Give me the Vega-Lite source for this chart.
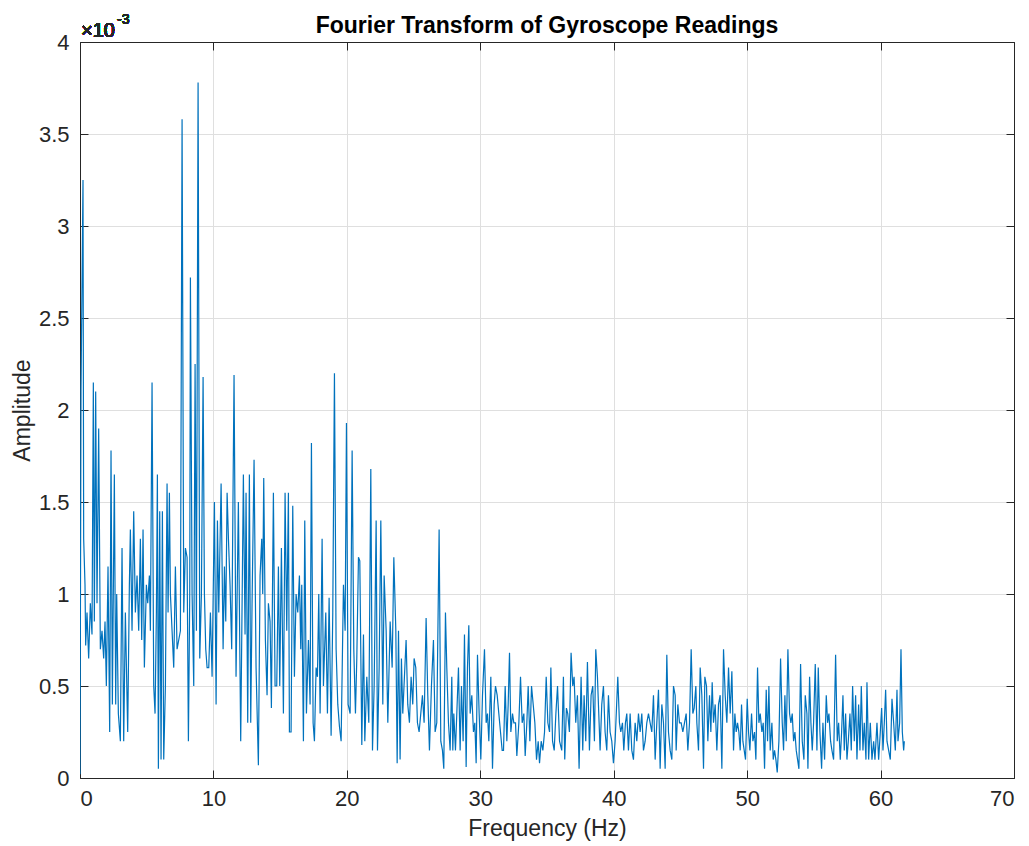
{
  "$schema": "https://vega.github.io/schema/vega-lite/v6.json",
  "width": 934,
  "height": 736,
  "autosize": {"type": "none"},
  "padding": {"left": 80, "top": 42, "right": 15, "bottom": 68},
  "background": "white",
  "title": {
    "text": "Fourier Transform of Gyroscope Readings",
    "font": "Liberation Sans",
    "fontSize": 23,
    "fontWeight": "bold",
    "color": "#000000",
    "anchor": "middle",
    "offset": -25
  },
  "config": {
    "view": {"stroke": "#262626", "strokeWidth": 1},
    "axis": {
      "domainColor": "#262626",
      "domainWidth": 1,
      "tickColor": "#262626",
      "tickWidth": 1,
      "tickSize": -8,
      "labelColor": "#262626",
      "labelFont": "Liberation Sans",
      "labelFontSize": 22,
      "titleFont": "Liberation Sans",
      "titleFontSize": 23,
      "titleFontWeight": "normal",
      "titleColor": "#262626",
      "gridColor": "#dfdfdf",
      "gridWidth": 1
    }
  },
  "data": {
    "values": [
      {"freq": 0, "amp": 0.00002},
      {"freq": 0.075, "amp": 0.0021},
      {"freq": 0.225, "amp": 0.00325},
      {"freq": 0.275, "amp": 0.0013},
      {"freq": 0.375, "amp": 0.00105},
      {"freq": 0.425, "amp": 0.00072},
      {"freq": 0.525, "amp": 0.0009},
      {"freq": 0.65, "amp": 0.00065},
      {"freq": 0.775, "amp": 0.00095},
      {"freq": 0.9, "amp": 0.00078},
      {"freq": 1.0, "amp": 0.00215},
      {"freq": 1.075, "amp": 0.00085},
      {"freq": 1.175, "amp": 0.0021},
      {"freq": 1.275, "amp": 0.00095},
      {"freq": 1.4, "amp": 0.0019},
      {"freq": 1.525, "amp": 0.0007},
      {"freq": 1.65, "amp": 0.0008},
      {"freq": 1.775, "amp": 0.00065},
      {"freq": 1.875, "amp": 0.00085},
      {"freq": 1.975, "amp": 0.0005},
      {"freq": 2.1, "amp": 0.00115},
      {"freq": 2.225, "amp": 0.00025},
      {"freq": 2.325, "amp": 0.00178},
      {"freq": 2.425, "amp": 0.0004},
      {"freq": 2.575, "amp": 0.00165},
      {"freq": 2.675, "amp": 0.0004},
      {"freq": 2.75, "amp": 0.001},
      {"freq": 2.875, "amp": 0.00035},
      {"freq": 3.025, "amp": 0.0002},
      {"freq": 3.15, "amp": 0.00125},
      {"freq": 3.275, "amp": 0.0002},
      {"freq": 3.4, "amp": 0.0009},
      {"freq": 3.575, "amp": 0.00025},
      {"freq": 3.7, "amp": 0.00105},
      {"freq": 3.775, "amp": 0.00135},
      {"freq": 3.9, "amp": 0.0008},
      {"freq": 4.025, "amp": 0.00145},
      {"freq": 4.15, "amp": 0.0009},
      {"freq": 4.275, "amp": 0.0011},
      {"freq": 4.4, "amp": 0.0008},
      {"freq": 4.525, "amp": 0.0013},
      {"freq": 4.625, "amp": 0.00075},
      {"freq": 4.725, "amp": 0.00135},
      {"freq": 4.825, "amp": 0.0006},
      {"freq": 4.975, "amp": 0.00105},
      {"freq": 5.075, "amp": 0.00095},
      {"freq": 5.2, "amp": 0.0011},
      {"freq": 5.275, "amp": 0.0008},
      {"freq": 5.4, "amp": 0.00215},
      {"freq": 5.525, "amp": 0.0005},
      {"freq": 5.625, "amp": 0.00035},
      {"freq": 5.725, "amp": 0.0009},
      {"freq": 5.8, "amp": 0.00165},
      {"freq": 5.875, "amp": 0.00005},
      {"freq": 5.975, "amp": 0.00145},
      {"freq": 6.075, "amp": 0.0001},
      {"freq": 6.175, "amp": 0.00145},
      {"freq": 6.275, "amp": 0.0001},
      {"freq": 6.4, "amp": 0.0005},
      {"freq": 6.525, "amp": 0.0016},
      {"freq": 6.6, "amp": 0.0009},
      {"freq": 6.7, "amp": 0.00155},
      {"freq": 6.775, "amp": 0.001},
      {"freq": 6.9, "amp": 0.0008},
      {"freq": 7.025, "amp": 0.0006},
      {"freq": 7.15, "amp": 0.00115},
      {"freq": 7.275, "amp": 0.0007},
      {"freq": 7.4, "amp": 0.00075},
      {"freq": 7.525, "amp": 0.0008},
      {"freq": 7.65, "amp": 0.00358},
      {"freq": 7.775, "amp": 0.0009},
      {"freq": 7.9, "amp": 0.00125},
      {"freq": 8.025, "amp": 0.0012},
      {"freq": 8.125, "amp": 0.0002},
      {"freq": 8.225, "amp": 0.001},
      {"freq": 8.275, "amp": 0.00272},
      {"freq": 8.4, "amp": 0.001},
      {"freq": 8.525, "amp": 0.0005},
      {"freq": 8.625, "amp": 0.00225},
      {"freq": 8.725, "amp": 0.0008},
      {"freq": 8.85, "amp": 0.00378},
      {"freq": 8.975, "amp": 0.00065},
      {"freq": 9.1, "amp": 0.001},
      {"freq": 9.225, "amp": 0.00218},
      {"freq": 9.325, "amp": 0.001},
      {"freq": 9.425, "amp": 0.0007},
      {"freq": 9.525, "amp": 0.0006},
      {"freq": 9.65, "amp": 0.0006},
      {"freq": 9.775, "amp": 0.0009},
      {"freq": 9.9, "amp": 0.00055},
      {"freq": 10.075, "amp": 0.0015},
      {"freq": 10.2, "amp": 0.0004},
      {"freq": 10.3, "amp": 0.0014},
      {"freq": 10.4, "amp": 0.0009},
      {"freq": 10.575, "amp": 0.0016},
      {"freq": 10.725, "amp": 0.0007},
      {"freq": 10.825, "amp": 0.00115},
      {"freq": 10.925, "amp": 0.00085},
      {"freq": 11.025, "amp": 0.00155},
      {"freq": 11.125, "amp": 0.0013},
      {"freq": 11.245, "amp": 0.00105},
      {"freq": 11.37, "amp": 0.0007},
      {"freq": 11.545, "amp": 0.00219},
      {"freq": 11.695, "amp": 0.00055},
      {"freq": 11.87, "amp": 0.0015},
      {"freq": 12.045, "amp": 0.0002},
      {"freq": 12.245, "amp": 0.00165},
      {"freq": 12.37, "amp": 0.00078},
      {"freq": 12.445, "amp": 0.00155},
      {"freq": 12.57, "amp": 0.0003},
      {"freq": 12.695, "amp": 0.00165},
      {"freq": 12.795, "amp": 0.0003},
      {"freq": 12.895, "amp": 0.00095},
      {"freq": 13.045, "amp": 0.00173},
      {"freq": 13.195, "amp": 0.0006},
      {"freq": 13.37, "amp": 0.00007},
      {"freq": 13.495, "amp": 0.0011},
      {"freq": 13.62, "amp": 0.0013},
      {"freq": 13.695, "amp": 0.001},
      {"freq": 13.77, "amp": 0.00163},
      {"freq": 13.895, "amp": 0.00075},
      {"freq": 14.02, "amp": 0.00045},
      {"freq": 14.12, "amp": 0.00095},
      {"freq": 14.245, "amp": 0.00085},
      {"freq": 14.345, "amp": 0.00038},
      {"freq": 14.495, "amp": 0.00155},
      {"freq": 14.62, "amp": 0.0005},
      {"freq": 14.745, "amp": 0.0005},
      {"freq": 14.87, "amp": 0.00115},
      {"freq": 14.97, "amp": 0.0005},
      {"freq": 15.095, "amp": 0.00125},
      {"freq": 15.245, "amp": 0.00035},
      {"freq": 15.37, "amp": 0.00155},
      {"freq": 15.495, "amp": 0.0008},
      {"freq": 15.62, "amp": 0.00155},
      {"freq": 15.695, "amp": 0.00025},
      {"freq": 15.82, "amp": 0.00025},
      {"freq": 15.945, "amp": 0.00148},
      {"freq": 16.07, "amp": 0.00055},
      {"freq": 16.195, "amp": 0.001},
      {"freq": 16.32, "amp": 0.0009},
      {"freq": 16.445, "amp": 0.0011},
      {"freq": 16.545, "amp": 0.0007},
      {"freq": 16.62, "amp": 0.00105},
      {"freq": 16.745, "amp": 0.0002},
      {"freq": 16.845, "amp": 0.0014},
      {"freq": 16.97, "amp": 0.00035},
      {"freq": 17.12, "amp": 0.00075},
      {"freq": 17.245, "amp": 0.0004},
      {"freq": 17.345, "amp": 0.00182},
      {"freq": 17.47, "amp": 0.0003},
      {"freq": 17.57, "amp": 0.0002},
      {"freq": 17.695, "amp": 0.0006},
      {"freq": 17.795, "amp": 0.00055},
      {"freq": 17.895, "amp": 0.001},
      {"freq": 17.995, "amp": 0.00035},
      {"freq": 18.145, "amp": 0.0013},
      {"freq": 18.245, "amp": 0.0005},
      {"freq": 18.42, "amp": 0.0009},
      {"freq": 18.545, "amp": 0.00035},
      {"freq": 18.67, "amp": 0.00098},
      {"freq": 18.82, "amp": 0.00023},
      {"freq": 18.945, "amp": 0.0009},
      {"freq": 19.07, "amp": 0.0022},
      {"freq": 19.195, "amp": 0.0007},
      {"freq": 19.32, "amp": 0.0004},
      {"freq": 19.445, "amp": 0.00028},
      {"freq": 19.57, "amp": 0.0002},
      {"freq": 19.745, "amp": 0.00105},
      {"freq": 19.87, "amp": 0.0008},
      {"freq": 19.97, "amp": 0.00193},
      {"freq": 20.095, "amp": 0.0004},
      {"freq": 20.245, "amp": 0.00035},
      {"freq": 20.395, "amp": 0.00178},
      {"freq": 20.52, "amp": 0.0007},
      {"freq": 20.645, "amp": 0.00035},
      {"freq": 20.745, "amp": 0.00065},
      {"freq": 20.87, "amp": 0.0012},
      {"freq": 20.97, "amp": 0.00118},
      {"freq": 21.12, "amp": 0.00018},
      {"freq": 21.245, "amp": 0.00078},
      {"freq": 21.345, "amp": 0.0002},
      {"freq": 21.495, "amp": 0.00055},
      {"freq": 21.645, "amp": 0.0003},
      {"freq": 21.795, "amp": 0.00168},
      {"freq": 21.92, "amp": 0.00015},
      {"freq": 22.045, "amp": 0.0005},
      {"freq": 22.195, "amp": 0.0014},
      {"freq": 22.295, "amp": 0.00015},
      {"freq": 22.42, "amp": 0.0006},
      {"freq": 22.545, "amp": 0.0014},
      {"freq": 22.695, "amp": 0.0004},
      {"freq": 22.795, "amp": 0.0011},
      {"freq": 22.945, "amp": 0.0008},
      {"freq": 23.07, "amp": 0.0003},
      {"freq": 23.245, "amp": 0.00085},
      {"freq": 23.395, "amp": 0.0006},
      {"freq": 23.52, "amp": 0.0012},
      {"freq": 23.67, "amp": 0.0008},
      {"freq": 23.77, "amp": 0.00008},
      {"freq": 23.87, "amp": 0.0008},
      {"freq": 23.99, "amp": 0.0001},
      {"freq": 24.09, "amp": 0.00065},
      {"freq": 24.19, "amp": 0.00035},
      {"freq": 24.315, "amp": 0.00055},
      {"freq": 24.44, "amp": 0.00075},
      {"freq": 24.565, "amp": 0.0004},
      {"freq": 24.69, "amp": 0.0003},
      {"freq": 24.815, "amp": 0.00055},
      {"freq": 24.94, "amp": 0.0004},
      {"freq": 25.04, "amp": 0.00065},
      {"freq": 25.165, "amp": 0.0006},
      {"freq": 25.29, "amp": 0.0003},
      {"freq": 25.415, "amp": 0.00025},
      {"freq": 25.54, "amp": 0.00035},
      {"freq": 25.665, "amp": 0.00045},
      {"freq": 25.79, "amp": 0.0003},
      {"freq": 25.94, "amp": 0.00087},
      {"freq": 26.065, "amp": 0.00045},
      {"freq": 26.19, "amp": 0.00015},
      {"freq": 26.34, "amp": 0.0005},
      {"freq": 26.49, "amp": 0.00075},
      {"freq": 26.615, "amp": 0.00025},
      {"freq": 26.74, "amp": 0.0003},
      {"freq": 26.915, "amp": 0.00135},
      {"freq": 27.04, "amp": 0.0002},
      {"freq": 27.165, "amp": 0.00015},
      {"freq": 27.265, "amp": 0.00005},
      {"freq": 27.39, "amp": 0.0009},
      {"freq": 27.49, "amp": 0.0006},
      {"freq": 27.615, "amp": 0.0003},
      {"freq": 27.74, "amp": 0.00015},
      {"freq": 27.865, "amp": 0.00055},
      {"freq": 27.94, "amp": 0.00015},
      {"freq": 28.015, "amp": 0.00035},
      {"freq": 28.14, "amp": 0.00015},
      {"freq": 28.24, "amp": 0.00035},
      {"freq": 28.365, "amp": 0.0006},
      {"freq": 28.49, "amp": 0.00015},
      {"freq": 28.59, "amp": 0.0005},
      {"freq": 28.715, "amp": 0.0002},
      {"freq": 28.815, "amp": 0.00078},
      {"freq": 28.94, "amp": 0.00006},
      {"freq": 29.04, "amp": 0.0006},
      {"freq": 29.14, "amp": 0.00083},
      {"freq": 29.24, "amp": 0.00035},
      {"freq": 29.365, "amp": 0.00045},
      {"freq": 29.49, "amp": 0.00025},
      {"freq": 29.59, "amp": 0.0003},
      {"freq": 29.69, "amp": 0.00008},
      {"freq": 29.79, "amp": 0.00067},
      {"freq": 29.915, "amp": 0.00035},
      {"freq": 30.04, "amp": 0.0001},
      {"freq": 30.165, "amp": 0.00045},
      {"freq": 30.315, "amp": 0.0007},
      {"freq": 30.44, "amp": 0.0003},
      {"freq": 30.54, "amp": 0.00035},
      {"freq": 30.64, "amp": 0.0002},
      {"freq": 30.79, "amp": 0.00055},
      {"freq": 30.915, "amp": 0.00005},
      {"freq": 31.04, "amp": 0.0004},
      {"freq": 31.14, "amp": 0.0005},
      {"freq": 31.265, "amp": 0.00045},
      {"freq": 31.39, "amp": 0.00035},
      {"freq": 31.515, "amp": 0.00025},
      {"freq": 31.64, "amp": 0.00015},
      {"freq": 31.74, "amp": 0.00015},
      {"freq": 31.865, "amp": 0.0005},
      {"freq": 31.99, "amp": 0.0002},
      {"freq": 32.09, "amp": 0.0004},
      {"freq": 32.19, "amp": 0.00068},
      {"freq": 32.29, "amp": 0.00025},
      {"freq": 32.415, "amp": 0.00035},
      {"freq": 32.515, "amp": 0.0003},
      {"freq": 32.64, "amp": 0.0003},
      {"freq": 32.74, "amp": 0.00012},
      {"freq": 32.89, "amp": 0.0003},
      {"freq": 33.015, "amp": 0.00055},
      {"freq": 33.14, "amp": 0.0003},
      {"freq": 33.265, "amp": 0.00035},
      {"freq": 33.365, "amp": 0.00012},
      {"freq": 33.49, "amp": 0.0003},
      {"freq": 33.59, "amp": 0.0005},
      {"freq": 33.715, "amp": 0.0002},
      {"freq": 33.84, "amp": 0.0005},
      {"freq": 33.965, "amp": 0.0004},
      {"freq": 34.09, "amp": 0.0003},
      {"freq": 34.215, "amp": 0.0001},
      {"freq": 34.34, "amp": 0.0002},
      {"freq": 34.44, "amp": 0.00008},
      {"freq": 34.565, "amp": 0.0002},
      {"freq": 34.69, "amp": 0.00015},
      {"freq": 34.815, "amp": 0.00025},
      {"freq": 34.94, "amp": 0.00055},
      {"freq": 35.065, "amp": 0.0003},
      {"freq": 35.19, "amp": 0.00025},
      {"freq": 35.29, "amp": 0.0006},
      {"freq": 35.415, "amp": 0.0002},
      {"freq": 35.54, "amp": 0.00015},
      {"freq": 35.665, "amp": 0.00035},
      {"freq": 35.79, "amp": 0.0005},
      {"freq": 35.94, "amp": 0.0002},
      {"freq": 36.105, "amp": 0.00015},
      {"freq": 36.23, "amp": 0.00055},
      {"freq": 36.33, "amp": 0.0001},
      {"freq": 36.455, "amp": 0.00038},
      {"freq": 36.555, "amp": 0.00035},
      {"freq": 36.68, "amp": 0.00025},
      {"freq": 36.805, "amp": 0.00068},
      {"freq": 36.93, "amp": 0.0005},
      {"freq": 37.03, "amp": 0.00055},
      {"freq": 37.155, "amp": 0.0003},
      {"freq": 37.28, "amp": 0.00045},
      {"freq": 37.405, "amp": 0.00005},
      {"freq": 37.555, "amp": 0.00055},
      {"freq": 37.68, "amp": 0.00015},
      {"freq": 37.78, "amp": 0.00045},
      {"freq": 37.905, "amp": 0.0002},
      {"freq": 38.03, "amp": 0.00063},
      {"freq": 38.18, "amp": 0.00015},
      {"freq": 38.305, "amp": 0.00045},
      {"freq": 38.43, "amp": 0.0005},
      {"freq": 38.555, "amp": 0.0002},
      {"freq": 38.655, "amp": 0.0007},
      {"freq": 38.78, "amp": 0.00055},
      {"freq": 38.905, "amp": 0.0003},
      {"freq": 38.98, "amp": 0.00015},
      {"freq": 39.105, "amp": 0.0004},
      {"freq": 39.23, "amp": 0.0005},
      {"freq": 39.355, "amp": 0.00025},
      {"freq": 39.48, "amp": 0.00015},
      {"freq": 39.605, "amp": 0.00045},
      {"freq": 39.73, "amp": 0.00025},
      {"freq": 39.855, "amp": 0.0002},
      {"freq": 39.98, "amp": 0.00008},
      {"freq": 40.105, "amp": 0.0002},
      {"freq": 40.305, "amp": 0.00055},
      {"freq": 40.43, "amp": 0.0003},
      {"freq": 40.53, "amp": 0.00025},
      {"freq": 40.655, "amp": 0.0003},
      {"freq": 40.755, "amp": 0.00015},
      {"freq": 40.88, "amp": 0.0003},
      {"freq": 40.98, "amp": 0.00035},
      {"freq": 41.105, "amp": 0.00015},
      {"freq": 41.23, "amp": 0.00035},
      {"freq": 41.355, "amp": 0.00015},
      {"freq": 41.48, "amp": 0.0001},
      {"freq": 41.605, "amp": 0.0003},
      {"freq": 41.73, "amp": 0.0002},
      {"freq": 41.855, "amp": 0.00035},
      {"freq": 41.98, "amp": 0.00025},
      {"freq": 42.105, "amp": 0.00035},
      {"freq": 42.23, "amp": 0.00015},
      {"freq": 42.355, "amp": 0.0002},
      {"freq": 42.48, "amp": 0.0003},
      {"freq": 42.605, "amp": 0.00035},
      {"freq": 42.73, "amp": 0.0003},
      {"freq": 42.855, "amp": 0.00025},
      {"freq": 42.98, "amp": 0.00045},
      {"freq": 43.105, "amp": 0.0001},
      {"freq": 43.23, "amp": 0.0003},
      {"freq": 43.355, "amp": 0.00048},
      {"freq": 43.48, "amp": 0.00005},
      {"freq": 43.605, "amp": 0.0004},
      {"freq": 43.73, "amp": 0.0003},
      {"freq": 43.855, "amp": 0.00005},
      {"freq": 43.98, "amp": 0.00067},
      {"freq": 44.105, "amp": 0.00025},
      {"freq": 44.23, "amp": 0.00015},
      {"freq": 44.355, "amp": 0.0001},
      {"freq": 44.48, "amp": 0.0005},
      {"freq": 44.605, "amp": 0.00045},
      {"freq": 44.68, "amp": 0.00015},
      {"freq": 44.805, "amp": 0.0004},
      {"freq": 44.93, "amp": 0.0003},
      {"freq": 45.055, "amp": 0.0003},
      {"freq": 45.18, "amp": 0.00025},
      {"freq": 45.305, "amp": 0.0003},
      {"freq": 45.43, "amp": 0.00035},
      {"freq": 45.555, "amp": 0.00015},
      {"freq": 45.68, "amp": 0.0003},
      {"freq": 45.805, "amp": 0.0007},
      {"freq": 45.93, "amp": 0.00035},
      {"freq": 46.03, "amp": 0.00038},
      {"freq": 46.155, "amp": 0.0005},
      {"freq": 46.23, "amp": 0.0003},
      {"freq": 46.355, "amp": 0.00015},
      {"freq": 46.48, "amp": 0.0006},
      {"freq": 46.605, "amp": 0.00045},
      {"freq": 46.73, "amp": 0.00005},
      {"freq": 46.83, "amp": 0.00055},
      {"freq": 46.955, "amp": 0.0005},
      {"freq": 47.055, "amp": 0.0002},
      {"freq": 47.18, "amp": 0.00045},
      {"freq": 47.28, "amp": 0.00025},
      {"freq": 47.38, "amp": 0.00052},
      {"freq": 47.48, "amp": 0.0003},
      {"freq": 47.605, "amp": 0.0004},
      {"freq": 47.73, "amp": 0.00015},
      {"freq": 47.855, "amp": 0.0004},
      {"freq": 47.98, "amp": 0.00045},
      {"freq": 48.105, "amp": 0.00005},
      {"freq": 48.23, "amp": 0.0007},
      {"freq": 48.355, "amp": 0.00045},
      {"freq": 48.48, "amp": 0.0003},
      {"freq": 48.605, "amp": 0.0006},
      {"freq": 48.73, "amp": 0.00035},
      {"freq": 48.855, "amp": 0.00058},
      {"freq": 48.98, "amp": 0.00015},
      {"freq": 49.08, "amp": 0.00035},
      {"freq": 49.18, "amp": 0.00025},
      {"freq": 49.28, "amp": 0.0003},
      {"freq": 49.38, "amp": 0.00025},
      {"freq": 49.48, "amp": 0.00015},
      {"freq": 49.58, "amp": 0.0004},
      {"freq": 49.68, "amp": 0.0002},
      {"freq": 49.78, "amp": 0.00015},
      {"freq": 49.88, "amp": 0.0001},
      {"freq": 50.005, "amp": 0.00043},
      {"freq": 50.105, "amp": 0.00025},
      {"freq": 50.205, "amp": 0.00015},
      {"freq": 50.33, "amp": 0.00035},
      {"freq": 50.43, "amp": 0.0002},
      {"freq": 50.555, "amp": 0.00025},
      {"freq": 50.655, "amp": 0.0001},
      {"freq": 50.78, "amp": 0.0006},
      {"freq": 50.88, "amp": 0.0003},
      {"freq": 50.98, "amp": 0.00035},
      {"freq": 51.105, "amp": 0.00025},
      {"freq": 51.205, "amp": 0.0003},
      {"freq": 51.305, "amp": 0.00005},
      {"freq": 51.43, "amp": 0.00048},
      {"freq": 51.53, "amp": 0.0002},
      {"freq": 51.63, "amp": 0.0005},
      {"freq": 51.73, "amp": 0.00015},
      {"freq": 51.855, "amp": 0.0003},
      {"freq": 51.955, "amp": 0.0001},
      {"freq": 52.055, "amp": 0.00015},
      {"freq": 52.155, "amp": 0.0001},
      {"freq": 52.255, "amp": 0.00003},
      {"freq": 52.38, "amp": 0.0002},
      {"freq": 52.505, "amp": 0.00065},
      {"freq": 52.63, "amp": 0.0003},
      {"freq": 52.73, "amp": 0.00015},
      {"freq": 52.83, "amp": 0.00045},
      {"freq": 52.93, "amp": 0.0002},
      {"freq": 53.055, "amp": 0.0007},
      {"freq": 53.18, "amp": 0.00035},
      {"freq": 53.28, "amp": 0.0003},
      {"freq": 53.38, "amp": 0.00035},
      {"freq": 53.48, "amp": 0.0002},
      {"freq": 53.58, "amp": 0.00025},
      {"freq": 53.68, "amp": 0.00015},
      {"freq": 53.78, "amp": 0.0001},
      {"freq": 53.88, "amp": 0.00005},
      {"freq": 54.005, "amp": 0.00062},
      {"freq": 54.13, "amp": 0.0002},
      {"freq": 54.255, "amp": 0.0001},
      {"freq": 54.355, "amp": 0.00045},
      {"freq": 54.48, "amp": 0.00035},
      {"freq": 54.555, "amp": 0.00005},
      {"freq": 54.68, "amp": 0.00055},
      {"freq": 54.78, "amp": 0.0003},
      {"freq": 54.88, "amp": 0.00015},
      {"freq": 54.98, "amp": 0.0003},
      {"freq": 55.105, "amp": 0.00062},
      {"freq": 55.23, "amp": 0.00015},
      {"freq": 55.33, "amp": 0.0006},
      {"freq": 55.455, "amp": 0.00025},
      {"freq": 55.58, "amp": 0.00005},
      {"freq": 55.68, "amp": 0.0003},
      {"freq": 55.805, "amp": 0.0001},
      {"freq": 55.93, "amp": 0.00045},
      {"freq": 56.03, "amp": 0.0003},
      {"freq": 56.13, "amp": 0.00035},
      {"freq": 56.255, "amp": 0.0002},
      {"freq": 56.355, "amp": 0.00015},
      {"freq": 56.48, "amp": 0.0001},
      {"freq": 56.63, "amp": 0.00067},
      {"freq": 56.755, "amp": 0.0002},
      {"freq": 56.855, "amp": 0.0003},
      {"freq": 56.98, "amp": 0.0001},
      {"freq": 57.08, "amp": 0.00025},
      {"freq": 57.18, "amp": 0.00045},
      {"freq": 57.28, "amp": 0.00015},
      {"freq": 57.38, "amp": 0.00035},
      {"freq": 57.48, "amp": 0.0001},
      {"freq": 57.58, "amp": 0.0002},
      {"freq": 57.705, "amp": 0.00035},
      {"freq": 57.805, "amp": 0.00015},
      {"freq": 57.905, "amp": 0.0005},
      {"freq": 58.03, "amp": 0.0002},
      {"freq": 58.13, "amp": 0.00045},
      {"freq": 58.23, "amp": 0.0001},
      {"freq": 58.355, "amp": 0.0004},
      {"freq": 58.455, "amp": 0.00015},
      {"freq": 58.555, "amp": 0.0005},
      {"freq": 58.68, "amp": 0.00015},
      {"freq": 58.78, "amp": 0.0003},
      {"freq": 58.905, "amp": 0.0001},
      {"freq": 58.98, "amp": 0.00052},
      {"freq": 59.105, "amp": 0.0001},
      {"freq": 59.23, "amp": 0.0003},
      {"freq": 59.355, "amp": 0.0001},
      {"freq": 59.48, "amp": 0.0002},
      {"freq": 59.58, "amp": 0.0001},
      {"freq": 59.73, "amp": 0.0003},
      {"freq": 59.855, "amp": 0.0001},
      {"freq": 59.98, "amp": 0.00025},
      {"freq": 60.08, "amp": 0.00038},
      {"freq": 60.18, "amp": 0.00015},
      {"freq": 60.28, "amp": 0.0003},
      {"freq": 60.38, "amp": 0.00048},
      {"freq": 60.48, "amp": 0.0002},
      {"freq": 60.605, "amp": 0.00015},
      {"freq": 60.73, "amp": 0.0001},
      {"freq": 60.855, "amp": 0.00043},
      {"freq": 60.98, "amp": 0.0003},
      {"freq": 61.105, "amp": 0.00015},
      {"freq": 61.23, "amp": 0.00048},
      {"freq": 61.305, "amp": 0.0002},
      {"freq": 61.43, "amp": 0.0003},
      {"freq": 61.53, "amp": 0.0007},
      {"freq": 61.63, "amp": 0.00025},
      {"freq": 61.73, "amp": 0.00015},
      {"freq": 61.78, "amp": 0.0002}
    ]
  },
  "layer": [
    {
      "mark": {"type": "line", "color": "#0072BD", "strokeWidth": 1.2, "clip": true},
      "encoding": {
        "x": {
          "field": "freq",
          "type": "quantitative",
          "scale": {"domain": [0, 70], "nice": false, "zero": false},
          "axis": {
            "orient": "bottom",
            "title": "Frequency (Hz)",
            "values": [0, 10, 20, 30, 40, 50, 60, 70],
            "grid": true,
            "labelPadding": 18,
            "titlePadding": 8
          }
        },
        "y": {
          "field": "amp",
          "type": "quantitative",
          "scale": {"domain": [0, 0.004], "nice": false},
          "axis": {
            "orient": "left",
            "title": "Amplitude",
            "values": [0, 0.0005, 0.001, 0.0015, 0.002, 0.0025, 0.003, 0.0035, 0.004],
            "labelExpr": "format(datum.value * 1000, '~g')",
            "grid": true,
            "labelPadding": 19,
            "titlePadding": 4
          }
        }
      }
    },
    {
      "mark": {"type": "line", "opacity": 0},
      "encoding": {
        "x": {
          "field": "freq",
          "type": "quantitative",
          "scale": {"domain": [0, 70], "nice": false, "zero": false},
          "axis": {"orient": "top", "title": null, "labels": false, "grid": false, "values": [0, 10, 20, 30, 40, 50, 60, 70]}
        },
        "y": {
          "field": "amp",
          "type": "quantitative",
          "scale": {"domain": [0, 0.004], "nice": false},
          "axis": {"orient": "right", "title": null, "labels": false, "grid": false, "values": [0, 0.0005, 0.001, 0.0015, 0.002, 0.0025, 0.003, 0.0035, 0.004]}
        }
      }
    },
    {
      "mark": {"type": "text", "align": "left", "baseline": "alphabetic", "font": "Liberation Sans", "fontSize": 20, "fontWeight": "normal", "color": "#262626", "dx": 1, "dy": -5},
      "encoding": {
        "x": {"datum": 0, "type": "quantitative", "scale": {"domain": [0, 70], "nice": false, "zero": false}, "axis": null},
        "y": {"datum": 0.004, "type": "quantitative", "scale": {"domain": [0, 0.004], "nice": false}, "axis": null},
        "text": {"value": "×10"}
      }
    },
    {
      "mark": {"type": "text", "align": "left", "baseline": "alphabetic", "font": "Liberation Sans", "fontSize": 14, "fontWeight": "normal", "color": "#262626", "dx": 37, "dy": -18},
      "encoding": {
        "x": {"datum": 0, "type": "quantitative", "scale": {"domain": [0, 70], "nice": false, "zero": false}, "axis": null},
        "y": {"datum": 0.004, "type": "quantitative", "scale": {"domain": [0, 0.004], "nice": false}, "axis": null},
        "text": {"value": "-3"}
      }
    }
  ],
  "resolve": {"axis": {"x": "independent", "y": "independent"}}
}
